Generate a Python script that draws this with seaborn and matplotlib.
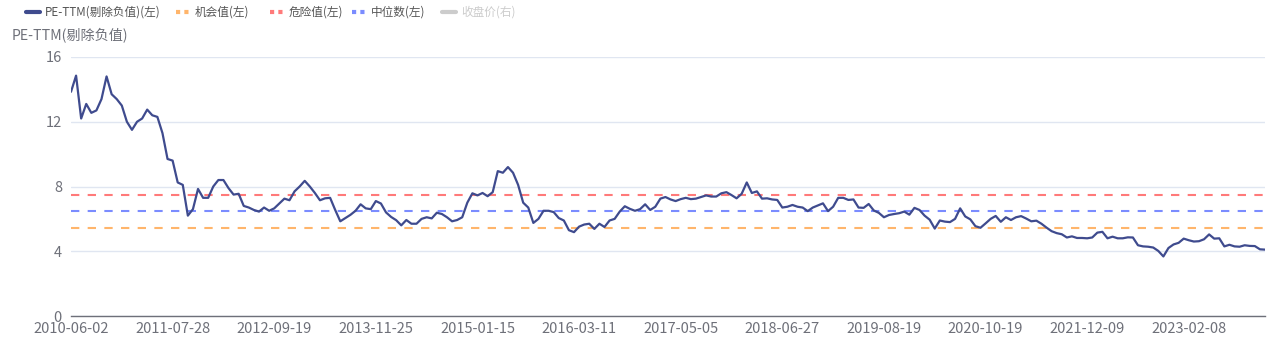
import numpy as np
import pandas as pd
import matplotlib
matplotlib.use("Agg")
import matplotlib.pyplot as plt
from matplotlib.lines import Line2D
import seaborn as sns

# ---------------- data ----------------
pe_values = [
    13.85, 14.85, 12.2, 13.1, 12.55, 12.7, 13.4, 14.8, 13.7, 13.4,
    13.0, 12.0, 11.5, 12.0, 12.2, 12.75, 12.4, 12.3, 11.3, 9.7,
    9.6, 8.25, 8.1, 6.2, 6.6, 7.85, 7.3, 7.3, 8.0, 8.4,
    8.4, 7.9, 7.5, 7.55, 6.8, 6.7, 6.55, 6.45, 6.7, 6.5,
    6.65, 6.95, 7.25, 7.15, 7.7, 8.0, 8.35, 8.0, 7.6, 7.15,
    7.27, 7.3, 6.55, 5.85, 6.05, 6.25, 6.5, 6.9, 6.65, 6.6,
    7.1, 6.95, 6.4, 6.12, 5.92, 5.6, 5.93, 5.7, 5.7, 6.0,
    6.1, 6.03, 6.38, 6.3, 6.1, 5.85, 5.93, 6.1, 7.0, 7.58,
    7.45, 7.6, 7.4, 7.65, 8.95, 8.85, 9.2, 8.85, 8.1, 7.0,
    6.7, 5.75, 6.0, 6.5, 6.5, 6.42, 6.05, 5.9, 5.3, 5.18,
    5.52, 5.65, 5.7, 5.38, 5.7, 5.5, 5.9, 6.0, 6.45, 6.78,
    6.62, 6.5, 6.6, 6.9, 6.55, 6.75, 7.25, 7.35, 7.2, 7.1,
    7.22, 7.3, 7.22, 7.25, 7.35, 7.45, 7.38, 7.38, 7.58, 7.65,
    7.47, 7.27, 7.55, 8.25, 7.6, 7.7, 7.25, 7.27, 7.2, 7.17,
    6.7, 6.75, 6.86, 6.75, 6.7, 6.48, 6.7, 6.83, 6.96, 6.48,
    6.75, 7.3, 7.3, 7.17, 7.2, 6.7, 6.68, 6.92, 6.52, 6.37,
    6.1, 6.24, 6.3, 6.35, 6.45, 6.26, 6.68, 6.55, 6.2, 5.95,
    5.4, 5.9, 5.83, 5.8, 6.0, 6.65, 6.15, 5.97, 5.55, 5.45,
    5.72, 6.0, 6.18, 5.82, 6.1, 5.93, 6.1, 6.17, 6.02, 5.85,
    5.89, 5.7, 5.46, 5.24, 5.12, 5.05, 4.85, 4.92, 4.82, 4.82,
    4.8, 4.85, 5.15, 5.2, 4.8, 4.9, 4.8, 4.8, 4.86, 4.85,
    4.37, 4.3, 4.28, 4.23, 4.02, 3.68, 4.2, 4.42, 4.52, 4.78,
    4.68, 4.6, 4.62, 4.74, 5.04, 4.78, 4.8, 4.3, 4.4, 4.3,
    4.28, 4.37, 4.33, 4.32, 4.12, 4.1,
]
date_labels = [
    "2010-06-02", "2011-07-28", "2012-09-19", "2013-11-25", "2015-01-15",
    "2016-03-11", "2017-05-05", "2018-06-27", "2019-08-19", "2020-10-19",
    "2021-12-09", "2023-02-08",
]
label_every = 20  # points between labelled categories
opportunity_value = 5.45
danger_value = 7.5
median_value = 6.5
y_ticks = [0, 4, 8, 12, 16]

legend_labels = ["PE-TTM(剔除负值)(左)", "机会值(左)", "危险值(左)", "中位数(左)", "收盘价(右)"]
y_axis_title = "PE-TTM(剔除负值)"

# ---------------- styling ----------------
sns.set_theme(style="white")
plt.rcParams["font.family"] = ["Noto Sans CJK SC", "DejaVu Sans"]

LINE_C = "#3f4b8e"
ORANGE = "#ffb56b"
RED = "#ff7a7a"
BLUE = "#7b8cff"
GREY_TXT = "#6e7079"
GRID_C = "#e0e6f1"
DISABLED = "#cccccc"

W, H = 1270, 344
df = pd.DataFrame({"idx": np.arange(len(pe_values)), "pe": pe_values})

fig = plt.figure(figsize=(W / 100, H / 100), dpi=100)
ax = fig.add_axes([71 / W, 1 - 316 / H, (1265 - 71) / W, (316 - 57) / H])

for v, c in [(danger_value, RED), (median_value, BLUE), (opportunity_value, ORANGE)]:
    ax.axhline(v, color=c, lw=1.5, linestyle=(0, (4, 4)), zorder=2)

sns.lineplot(data=df, x="idx", y="pe", ax=ax, color=LINE_C, lw=1.6, zorder=3)

ax.set_xlim(0, len(pe_values) - 1)
ax.set_ylim(0, 16)
ax.set_yticks(y_ticks)
ax.set_yticklabels([str(t) for t in y_ticks])
ax.set_xticks(np.arange(len(date_labels)) * label_every)
ax.set_xticklabels(date_labels)
ax.set_xlabel("")
ax.set_ylabel("")
ax.grid(axis="y", color=GRID_C, lw=1)
ax.grid(axis="x", visible=False)
for s in ["left", "right", "top"]:
    ax.spines[s].set_visible(False)
ax.spines["bottom"].set_color(GREY_TXT)
ax.spines["bottom"].set_linewidth(1)
ax.tick_params(axis="both", length=0, colors=GREY_TXT, labelsize=10.5)
ax.tick_params(axis="x", pad=4.5)
ax.tick_params(axis="y", pad=6.5)

# axis title
fig.text(12 / W, 1 - 35 / H, y_axis_title, color=GREY_TXT, fontsize=10.2,
         ha="left", va="center")

# legend (drawn by hand for exact spacing)
legend_styles = [
    (LINE_C, "-", "#555555"),
    (ORANGE, (0, (1, 1)), "#555555"),
    (RED, (0, (1, 1)), "#555555"),
    (BLUE, (0, (1, 1)), "#555555"),
    (DISABLED, "-", DISABLED),
]
legend_x = [26, 176, 270, 352, 442]
ly = 1 - 12 / H
for (c, ls, tc), lab, x0 in zip(legend_styles, legend_labels, legend_x):
    fig.add_artist(Line2D([x0 / W, (x0 + 14) / W], [ly, ly], transform=fig.transFigure,
                          color=c, lw=3, linestyle=ls))
    fig.text((x0 + 19) / W, ly, lab, color=tc, fontsize=8.4, ha="left", va="center")

fig.savefig("out.png", dpi=100)
